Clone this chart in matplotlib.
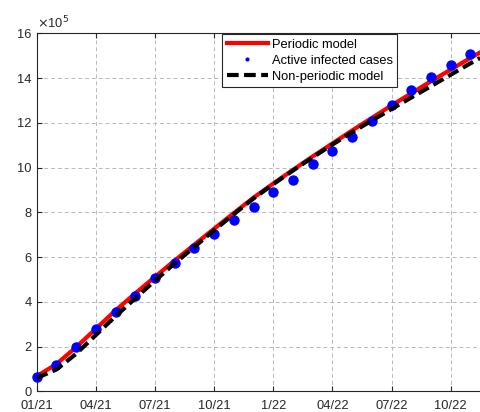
import numpy as np
import matplotlib.pyplot as plt

plt.rcParams['font.family'] = ['Liberation Sans', 'DejaVu Sans']

# month index: 0 = Jan 2021 ... 22 = Nov 2022
months = list(range(23))

# active infected cases (x 10^5), monthly observations
cases = [0.63, 1.19, 2.00, 2.81, 3.54, 4.28, 5.06, 5.76, 6.43, 7.03,
         7.64, 8.26, 8.89, 9.43, 10.14, 10.76, 11.38, 12.07, 12.81, 13.49,
         14.07, 14.59, 15.07]

# model curves (x 10^5), sampled monthly plus the end of the window
model_t = months + [22.5]
periodic = [0.68, 1.22, 1.98, 2.80, 3.62, 4.38, 5.12, 5.85, 6.56, 7.27,
            7.97, 8.66, 9.29, 9.90, 10.50, 11.08, 11.66, 12.22, 12.78, 13.32,
            13.86, 14.38, 14.90, 15.15]
nonperiodic = [0.60, 0.98, 1.68, 2.52, 3.36, 4.16, 4.95, 5.72, 6.46, 7.20,
               7.92, 8.62, 9.26, 9.87, 10.46, 11.03, 11.58, 12.10, 12.62, 13.13,
               13.64, 14.15, 14.66, 14.90]

tick_pos = [0, 3, 6, 9, 12, 15, 18, 21]
tick_lab = ['01/21', '04/21', '07/21', '10/21', '1/22', '04/22', '07/22', '10/22']

fig = plt.figure(figsize=(4.8, 4.12), dpi=100)
ax = fig.add_axes([0.0765, 0.05, 0.9235, 0.869])

ax.plot(model_t, periodic, color=(1, 0, 0), lw=3, label='Periodic model', zorder=3)
ax.plot(months, cases, 'o', color=(0, 0, 1), ms=7.5, mec='none',
        label='Active infected cases', zorder=4, clip_on=False)
ax.plot(model_t, nonperiodic, color='k', lw=3, dashes=(2.8, 1.3),
        label='Non-periodic model', zorder=5)

ax.set_xlim(0, 22.49)
ax.set_ylim(0, 16)
ax.set_xticks(tick_pos)
ax.set_xticklabels(tick_lab)
ax.set_yticks(np.arange(0, 17, 2))

ax.grid(True, color='#b8b8b8', linestyle=(0, (4, 3)), linewidth=0.7)
ax.set_axisbelow(True)

for side in ['left', 'top', 'bottom']:
    ax.spines[side].set_color('#262626')
    ax.spines[side].set_linewidth(0.8)
ax.spines['right'].set_visible(False)

ax.tick_params(direction='in', length=3.5, width=0.8, top=True, right=False,
               colors='#262626', labelsize=9.3, labelcolor='#262626')
ax.tick_params(axis='x', pad=6)

ax.text(0.0, 1.006, r'$\times$10$^5$', transform=ax.transAxes,
        fontsize=9.3, color='#262626', ha='left', va='bottom')

leg = ax.legend(loc='upper right', bbox_to_anchor=(0.813, 0.997), fontsize=9.3,
                fancybox=False, framealpha=1, edgecolor='#262626',
                handlelength=3.2, handletextpad=0.3, borderpad=0.33,
                labelspacing=0.3, borderaxespad=0)
leg.get_frame().set_linewidth(0.8)
leg.legend_handles[1].set_markersize(3)

fig.savefig('out.png', dpi=100)
